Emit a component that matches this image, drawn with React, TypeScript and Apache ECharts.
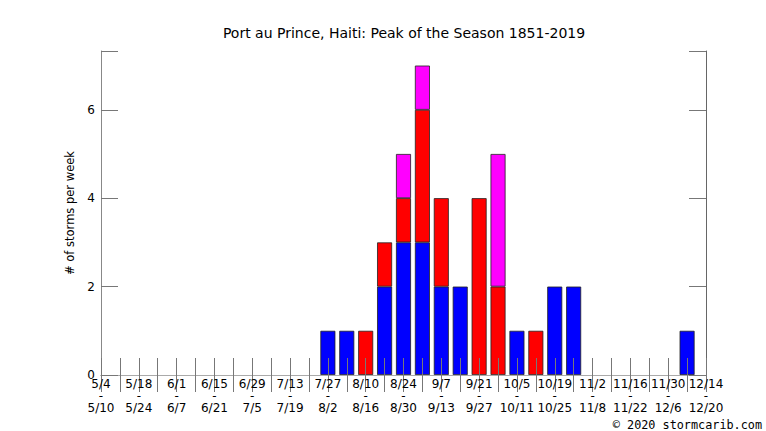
import React, { useEffect, useRef } from "react";
import * as echarts from "echarts";

const weekStarts = [
  "5/4", "5/11", "5/18", "5/25", "6/1", "6/8", "6/15", "6/22", "6/29", "7/6", "7/13",
  "7/20", "7/27", "8/3", "8/10", "8/17", "8/24", "8/31", "9/7", "9/14", "9/21", "9/28",
  "10/5", "10/12", "10/19", "10/26", "11/2", "11/9", "11/16", "11/23", "11/30", "12/7", "12/14",
];
const weekEnds = [
  "5/10", "5/17", "5/24", "5/31", "6/7", "6/14", "6/21", "6/28", "7/5", "7/12", "7/19",
  "7/26", "8/2", "8/9", "8/16", "8/23", "8/30", "9/6", "9/13", "9/20", "9/27", "10/4",
  "10/11", "10/18", "10/25", "11/1", "11/8", "11/15", "11/22", "11/29", "12/6", "12/13", "12/20",
];
// storms per week, by intensity class (stacked bottom to top)
const blueCounts = [0,0,0,0,0,0,0,0,0,0,0,0,1,1,0,2,3,3,2,2,0,0,1,0,2,2,0,0,0,0,0,1,0];
const redCounts = [0,0,0,0,0,0,0,0,0,0,0,0,0,0,1,1,1,3,2,0,4,2,0,1,0,0,0,0,0,0,0,0,0];
const magentaCounts = [0,0,0,0,0,0,0,0,0,0,0,0,0,0,0,0,1,1,0,0,0,3,0,0,0,0,0,0,0,0,0,0,0];
const yTicks = [0, 2, 4, 6];

const FONT = "DejaVu Sans";

export default function App() {
  const ref = useRef<HTMLDivElement>(null);
  useEffect(() => {
    if (!ref.current) return;
    const chart = echarts.init(ref.current, undefined, { renderer: "svg" });
    const toData = (arr: number[]) => arr.map((v) => (v > 0 ? v : "-"));
    const barStyle = (color: string) => ({
      color,
      borderColor: "#222",
      borderWidth: 0.8,
    });
    const tickStyle = { color: "#777", width: 1 };
    const axisLineStyle = { color: "#888", width: 1 };
    chart.setOption({
      animation: false,
      backgroundColor: "#fff",
      textStyle: { fontFamily: FONT },
      grid: { left: 101, right: 60, top: 51, bottom: 56 },
      graphic: [
        {
          type: "text",
          x: 404,
          y: 33,
          style: {
            text: "Port au Prince, Haiti: Peak of the Season 1851-2019",
            font: `14px ${FONT}`,
            fill: "#000",
            textAlign: "center",
            textVerticalAlign: "middle",
          },
        },
        {
          type: "text",
          x: 762,
          y: 425,
          style: {
            text: "© 2020 stormcarib.com",
            font: "11.8px 'DejaVu Sans Mono'",
            fill: "#000",
            textAlign: "right",
            textVerticalAlign: "middle",
          },
        },
      ],
      xAxis: [
        {
          type: "category",
          data: weekStarts,
          boundaryGap: false,
          position: "bottom",
          z: 5,
          axisLine: { show: true, lineStyle: axisLineStyle },
          axisTick: { show: true, inside: true, length: 17, interval: 0, lineStyle: tickStyle },
          axisLabel: {
            interval: 1,
            margin: 3,
            fontSize: 12,
            lineHeight: 12,
            color: "#000",
            fontFamily: FONT,
            formatter: (value: string, index: number) => `${value}\n-\n${weekEnds[index]}`,
          },
          splitLine: { show: false },
        },
        {
          type: "category",
          data: weekStarts,
          boundaryGap: false,
          position: "top",
          z: 5,
          axisLine: { show: true, lineStyle: { color: "#aaa", width: 1 } },
          axisTick: { show: true, inside: true, length: 17, interval: 0, lineStyle: tickStyle },
          axisLabel: { show: false },
          splitLine: { show: false },
        },
      ],
      yAxis: [
        {
          type: "value",
          min: 0,
          max: 7.33,
          interval: 2,
          position: "left",
          z: 5,
          name: "# of storms per week",
          nameLocation: "middle",
          nameRotate: 90,
          nameGap: 25,
          nameTextStyle: { fontSize: 11.5, color: "#000", fontFamily: FONT },
          axisLine: { show: true, lineStyle: axisLineStyle },
          axisTick: { show: true, inside: true, length: 17, lineStyle: tickStyle },
          axisLabel: {
            margin: 6,
            fontSize: 12,
            color: "#000",
            fontFamily: FONT,
            formatter: (v: number) => (yTicks.includes(v) ? String(v) : ""),
          },
          splitLine: { show: false },
        },
        {
          type: "value",
          min: 0,
          max: 7.33,
          interval: 2,
          position: "right",
          z: 5,
          axisLine: { show: true, lineStyle: { color: "#666", width: 1 } },
          axisTick: { show: true, inside: true, length: 17, lineStyle: tickStyle },
          axisLabel: { show: false },
          splitLine: { show: false },
        },
      ],
      series: [
        {
          type: "bar",
          stack: "storms",
          barWidth: 15,
          xAxisIndex: 0,
          yAxisIndex: 0,
          data: toData(blueCounts),
          itemStyle: barStyle("#0000ff"),
        },
        {
          type: "bar",
          stack: "storms",
          barWidth: 15,
          xAxisIndex: 0,
          yAxisIndex: 0,
          data: toData(redCounts),
          itemStyle: barStyle("#ff0000"),
        },
        {
          type: "bar",
          stack: "storms",
          barWidth: 15,
          xAxisIndex: 0,
          yAxisIndex: 0,
          data: toData(magentaCounts),
          itemStyle: barStyle("#ff00ff"),
        },
      ],
    });
    return () => chart.dispose();
  }, []);
  return (
    <div
      ref={ref}
      style={{ position: "fixed", left: 0, top: 0, width: 766, height: 431, background: "#fff" }}
    />
  );
}
